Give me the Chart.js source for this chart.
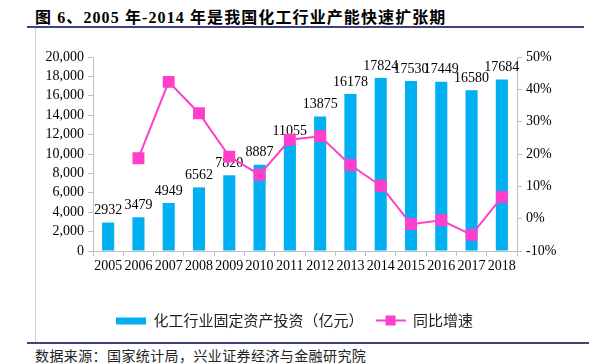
<!DOCTYPE html>
<html>
<head>
<meta charset="utf-8">
<script src="https://cdn.jsdelivr.net/npm/chart.js@4"></script>
<style>
  body { margin: 0; width: 589px; height: 364px; background: #fff; position: relative; overflow: hidden; }
  #title { position: absolute; left: 35px; top: 4px; font: bold 16px "Liberation Serif", "Noto Sans CJK SC"; letter-spacing: 1.1px; color: #000; white-space: nowrap; }
  #topline { position: absolute; left: 27px; top: 26px; width: 557px; height: 2px; background: #3b4380; }
  #leftline { position: absolute; left: 35px; top: 28px; width: 1px; height: 314px; background: #d0d0d0; }
  #botline { position: absolute; left: 27px; top: 342px; width: 562px; height: 2px; background: #3b4380; }
  #source { position: absolute; left: 35px; top: 345px; font: 14px "Noto Sans CJK SC"; letter-spacing: 0.4px; color: #222; white-space: nowrap; }
  #wrap { position: absolute; left: 0; top: 30px; width: 589px; height: 312px; }
</style>
</head>
<body>
<div id="title">图 6、2005 年-2014 年是我国化工行业产能快速扩张期</div>
<div id="topline"></div>
<div id="leftline"></div>
<div id="wrap"><canvas id="chart"></canvas></div>
<div id="botline"></div>
<div id="source">数据来源：国家统计局，兴业证券经济与金融研究院</div>
<script>
// data
const years = ['2005', '2006', '2007', '2008', '2009', '2010', '2011', '2012', '2013', '2014', '2015', '2016', '2017', '2018'];
const investment = [2932, 3479, 4949, 6562, 7820, 8887, 11055, 13875, 16178, 17824, 17530, 17449, 16580, 17684];
const growth = [null, 18.7, 42.3, 32.6, 19.2, 13.6, 24.4, 25.5, 16.6, 10.2, -1.7, -0.5, -5.0, 6.7];
const leftTicks = [0, 2000, 4000, 6000, 8000, 10000, 12000, 14000, 16000, 18000, 20000];
const rightTicks = [-10, 0, 10, 20, 30, 40, 50];

const blue = '#00b0f0';
const pink = '#ff3fcb';
const serif = 'Liberation Serif';

// legend swatches: blue bar, pink line with square
function swatch(kind) {
  const c = document.createElement('canvas');
  c.width = 30; c.height = 12;
  const g = c.getContext('2d');
  if (kind === 'bar') {
    g.fillStyle = blue;
    g.fillRect(0, 3, 30, 7);
  } else {
    g.strokeStyle = pink; g.lineWidth = 2;
    g.beginPath(); g.moveTo(0, 6); g.lineTo(30, 6); g.stroke();
    g.fillStyle = pink;
    g.fillRect(10, 1, 10, 10);
  }
  return c;
}

// numbers above the bars
const barLabels = {
  id: 'barLabels',
  afterDatasetDraw(chart, args) {
    if (args.index !== 0) return;
    const ctx = chart.ctx;
    ctx.save();
    ctx.font = '14px ' + serif;
    ctx.fillStyle = '#000';
    ctx.textAlign = 'center';
    ctx.textBaseline = 'bottom';
    args.meta.data.forEach((bar, i) => {
      ctx.fillText(String(investment[i]), bar.x, bar.y - 5);
    });
    ctx.restore();
  }
};

new Chart(document.getElementById('chart'), {
  data: {
    labels: years,
    datasets: [{
      type: 'bar',
      label: '化工行业固定资产投资（亿元）',
      data: investment,
      backgroundColor: blue,
      yAxisID: 'y',
      order: 2,
      barPercentage: 0.4,
      categoryPercentage: 1
    }, {
      type: 'line',
      label: '同比增速',
      data: growth,
      borderColor: pink,
      backgroundColor: pink,
      borderWidth: 2,
      pointStyle: 'rect',
      pointRadius: 7,
      pointHoverRadius: 7,
      tension: 0,
      yAxisID: 'y1',
      order: 1
    }]
  },
  plugins: [barLabels],
  options: {
    responsive: true,
    maintainAspectRatio: false,
    animation: false,
    layout: { padding: { top: 27, left: 0, right: 0, bottom: 4 } },
    plugins: {
      tooltip: { enabled: false },
      legend: {
        position: 'bottom',
        labels: {
          usePointStyle: true,
          pointStyleWidth: 30,
          boxHeight: 12,
          padding: 12,
          color: '#222',
          font: { family: 'Noto Sans CJK SC', size: 15 },
          generateLabels(chart) {
            return chart.data.datasets.map((ds, i) => ({
              text: ds.label,
              datasetIndex: i,
              pointStyle: swatch(ds.type),
              fontColor: '#222',
              lineWidth: 0
            }));
          }
        }
      }
    },
    scales: {
      x: {
        offset: true,
        grid: { offset: true, drawOnChartArea: false, drawTicks: true, tickLength: 5, color: '#bfbfbf' },
        border: { color: '#bfbfbf' },
        ticks: { color: '#000', font: { family: serif, size: 14 }, padding: 2, maxRotation: 0, autoSkip: false },
        afterFit(s) { s.height = 50; }
      },
      y: {
        position: 'left',
        min: 0, max: 20000,
        afterBuildTicks(s) { s.ticks = leftTicks.map(v => ({ value: v })); },
        grid: { drawOnChartArea: false, tickLength: 5, color: '#bfbfbf' },
        border: { color: '#bfbfbf' },
        ticks: {
          color: '#000', font: { family: serif, size: 14 }, padding: 4, autoSkip: false,
          callback: v => v.toLocaleString('en-US')
        },
        afterFit(s) { s.width = 93; }
      },
      y1: {
        position: 'right',
        min: -10, max: 50,
        afterBuildTicks(s) { s.ticks = rightTicks.map(v => ({ value: v })); },
        grid: { drawOnChartArea: false, tickLength: 5, color: '#bfbfbf' },
        border: { color: '#bfbfbf' },
        ticks: { color: '#000', font: { family: serif, size: 14 }, padding: 4, autoSkip: false, callback: v => v + '%' },
        afterFit(s) { s.width = 72; }
      }
    }
  }
});
</script>
</body>
</html>
